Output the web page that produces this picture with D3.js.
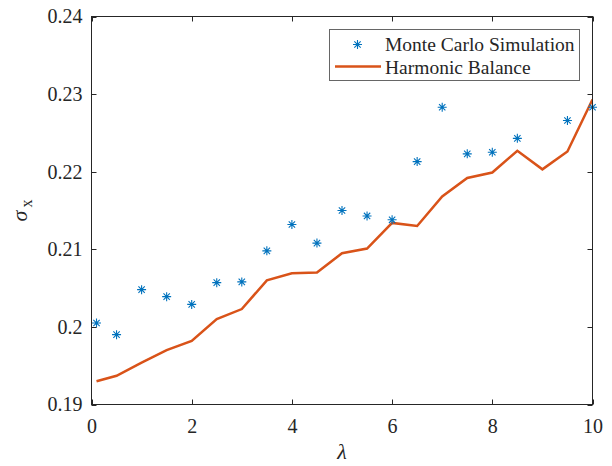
<!DOCTYPE html>
<html><head><meta charset="utf-8">
<script src="https://cdn.jsdelivr.net/npm/d3@7"></script>
<style>
html,body{margin:0;padding:0;background:#fff;}
svg{display:block;}
</style></head>
<body>
<svg id="c" width="612" height="466" style="font-family:'Liberation Serif'"></svg>
<script>
const lambdaVals = [0.1,0.5,1,1.5,2,2.5,3,3.5,4,4.5,5,5.5,6,6.5,7,7.5,8,8.5,9,9.5,10];
const monteCarlo = [0.2005,0.1990,0.2048,0.2039,0.2029,0.2057,0.2058,0.2098,0.2132,0.2108,0.2150,0.2143,0.2138,0.2213,0.2283,0.2223,0.2225,0.2243,null,0.2266,0.2283];
const harmonic = [0.1930,0.1937,0.1954,0.1970,0.1982,0.2010,0.2023,0.2060,0.2069,0.2070,0.2095,0.2101,0.2134,0.2130,0.2168,0.2192,0.2199,0.2227,0.2203,0.2226,0.2293];
const xTicks = [0,2,4,6,8,10];
const yTicks = [0.19,0.2,0.21,0.22,0.23,0.24];
const yTickLabels = ["0.19","0.2","0.21","0.22","0.23","0.24"];
const seriesNames = ["Monte Carlo Simulation","Harmonic Balance"];

const FONT = "'Liberation Serif'";
const INK = "#262626";
const svg = d3.select("#c");
const L = 91.5, R = 592.5, T = 16.5, B = 404.5;
const x = d3.scaleLinear().domain([0,10]).range([L,R]);
const y = d3.scaleLinear().domain([0.19,0.24]).range([B,T]);
const blue = "#0072BD", orange = "#D95319";
const tickLen = 5;

function styleText(sel, size){
  sel.attr("font-family",null).style("font-family",FONT).style("font-size",size+"px").style("fill",INK);
}

svg.append("clipPath").attr("id","clip").append("rect")
  .attr("x",L).attr("y",T).attr("width",R-L).attr("height",B-T);
const g = svg.append("g").attr("clip-path","url(#clip)");

const line = d3.line().x((d,i)=>x(lambdaVals[i])).y(d=>y(d));
g.append("path").datum(harmonic).attr("d",line)
  .attr("fill","none").attr("stroke",orange).attr("stroke-width",2.5).attr("stroke-linejoin","miter");

function star(sel, cx, cy, r){
  const a = r*Math.SQRT1_2;
  const p = `M${cx-r},${cy}L${cx+r},${cy}M${cx},${cy-r}L${cx},${cy+r}M${cx-a},${cy-a}L${cx+a},${cy+a}M${cx-a},${cy+a}L${cx+a},${cy-a}`;
  sel.append("path").attr("d",p).attr("stroke",blue).attr("stroke-width",1.1).attr("fill","none");
}
const mcPts = monteCarlo.map((v,i)=>({x:lambdaVals[i],y:v})).filter(d=>d.y!==null);
const sg = svg.append("g");
mcPts.forEach(d=>star(sg, x(d.x), y(d.y), 4.5));

svg.append("rect").attr("x",L).attr("y",T).attr("width",R-L).attr("height",B-T)
  .attr("fill","none").attr("stroke",INK).attr("stroke-width",1);

const xAxis = d3.axisBottom(x).tickValues(xTicks).tickSize(0).tickPadding(14).tickFormat(d3.format("d"));
const xg = svg.append("g").attr("transform",`translate(0,${B})`).call(xAxis);
xg.attr("font-family",null).attr("font-size",null);
xg.select(".domain").remove();
styleText(xg.selectAll("text"), 20);

const yAxis = d3.axisLeft(y).tickValues(yTicks).tickSize(0).tickPadding(9).tickFormat((d,i)=>yTickLabels[i]);
const yg = svg.append("g").attr("transform",`translate(${L},0)`).call(yAxis);
yg.attr("font-family",null).attr("font-size",null);
yg.select(".domain").remove();
styleText(yg.selectAll("text"), 20);

const tk = svg.append("g").attr("stroke",INK).attr("stroke-width",1);
xTicks.forEach(v=>{
  const px = Math.round(x(v))+0.5;
  tk.append("line").attr("x1",px).attr("x2",px).attr("y1",B).attr("y2",B-tickLen);
  tk.append("line").attr("x1",px).attr("x2",px).attr("y1",T).attr("y2",T+tickLen);
});
yTicks.forEach(v=>{
  const py = Math.round(y(v))+0.5;
  tk.append("line").attr("x1",L).attr("x2",L+tickLen).attr("y1",py).attr("y2",py);
  tk.append("line").attr("x1",R).attr("x2",R-tickLen).attr("y1",py).attr("y2",py);
});

const xl = svg.append("text").attr("x",(L+R)/2).attr("y",459).attr("text-anchor","middle").text("λ");
styleText(xl, 22); xl.style("font-style","italic");
const yl = svg.append("text").attr("transform",`translate(27,${(T+B)/2}) rotate(-90)`).attr("text-anchor","middle");
styleText(yl, 22);
yl.append("tspan").style("font-style","italic").text("σ");
yl.append("tspan").style("font-size","16px").attr("dx",3).attr("dy",5).text("x");

const lg = svg.append("g");
lg.append("rect").attr("x",329.5).attr("y",29.5).attr("width",250).attr("height",51)
  .attr("fill","#fff").attr("stroke","#666").attr("stroke-width",1);
star(lg, 357.5, 44.5, 4.5);
styleText(lg.append("text").attr("x",385).attr("y",50.5).text(seriesNames[0]), 19.5);
lg.append("line").attr("x1",335).attr("x2",381).attr("y1",66.5).attr("y2",66.5)
  .attr("stroke",orange).attr("stroke-width",2.5);
styleText(lg.append("text").attr("x",385).attr("y",73.5).text(seriesNames[1]), 19.5);
</script>
</body></html>
